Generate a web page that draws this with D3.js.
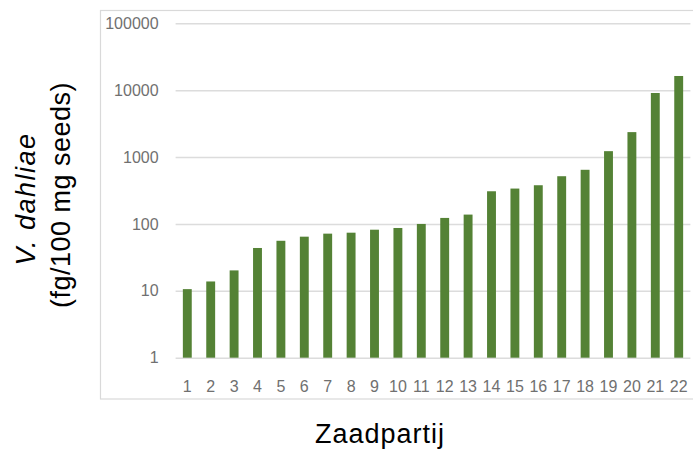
<!DOCTYPE html>
<html>
<head>
<meta charset="utf-8">
<script src="https://cdn.jsdelivr.net/npm/d3@7"></script>
<style>
  html, body { margin: 0; padding: 0; background: #fff; }
  svg { display: block; }
</style>
</head>
<body>
<svg id="chart" width="693" height="451"></svg>
<script>
const categories = ["1","2","3","4","5","6","7","8","9","10","11","12","13","14","15","16","17","18","19","20","21","22"];
const values = [10.6, 13.8, 20.2, 43.7, 56, 64.5, 71.6, 74, 82, 87, 100, 123, 138, 308, 338, 379, 517, 645, 1225, 2360, 9080, 16300];
const yTicks = [1, 10, 100, 1000, 10000, 100000];
const yTitleLines = ["V. dahliae", "(fg/100 mg seeds)"];
const xTitle = "Zaadpartij";

const svg = d3.select("#chart");
const plot = { left: 175.6, right: 690.4, top: 23.3, bottom: 357.7 };

// chart frame
svg.append("rect")
  .attr("x", 100.5).attr("y", 10.5)
  .attr("width", 600).attr("height", 388.5)
  .attr("fill", "none").attr("stroke", "#d9d9d9").attr("stroke-width", 1.2);

const x = d3.scaleBand().domain(categories)
  .range([plot.left, plot.right]).paddingInner(0.62).paddingOuter(0.31);
const y = d3.scaleLog().domain([1, 100000]).range([plot.bottom, plot.top]);

const yAxis = svg.append("g")
  .attr("transform", `translate(${plot.left},0)`)
  .call(d3.axisLeft(y).tickValues(yTicks).tickFormat(d3.format("d"))
    .tickSizeInner(-(plot.right - plot.left)).tickSizeOuter(0).tickPadding(17));
yAxis.select(".domain").remove();
yAxis.selectAll(".tick line").attr("stroke", "#dcdcdc").attr("stroke-width", 1.5);
yAxis.selectAll(".tick text")
  .attr("fill", "#707070").attr("font-size", "16px")
  .attr("font-family", "'Liberation Sans', Arial, sans-serif");

svg.append("g").selectAll("rect").data(values).join("rect")
  .attr("x", (d, i) => x(categories[i]))
  .attr("width", x.bandwidth())
  .attr("y", d => y(d))
  .attr("height", d => y(1) - y(d))
  .attr("fill", "#548235");

const xAxis = svg.append("g")
  .attr("transform", `translate(0,${plot.bottom})`)
  .call(d3.axisBottom(x).tickSize(0).tickPadding(23));
xAxis.select(".domain").remove();
xAxis.selectAll(".tick text")
  .attr("fill", "#707070").attr("font-size", "16px")
  .attr("font-family", "'Liberation Sans', Arial, sans-serif");

// y title
const yt = svg.append("g").attr("font-family", "'Liberation Sans', Arial, sans-serif")
  .attr("font-size", "27px").attr("fill", "#000");
yt.append("text").attr("transform", "translate(35,199) rotate(-90)")
  .attr("text-anchor", "middle").attr("font-style", "italic").attr("letter-spacing", "1.5px")
  .text(yTitleLines[0]);
yt.append("text").attr("transform", "translate(70,195) rotate(-90)")
  .attr("text-anchor", "middle").attr("letter-spacing", "0.5px")
  .text(yTitleLines[1]);

svg.append("text").attr("x", 380).attr("y", 443)
  .attr("text-anchor", "middle")
  .attr("font-family", "'Liberation Sans', Arial, sans-serif")
  .attr("font-size", "27px").attr("letter-spacing", "1px").attr("fill", "#000")
  .text(xTitle);
</script>
</body>
</html>
